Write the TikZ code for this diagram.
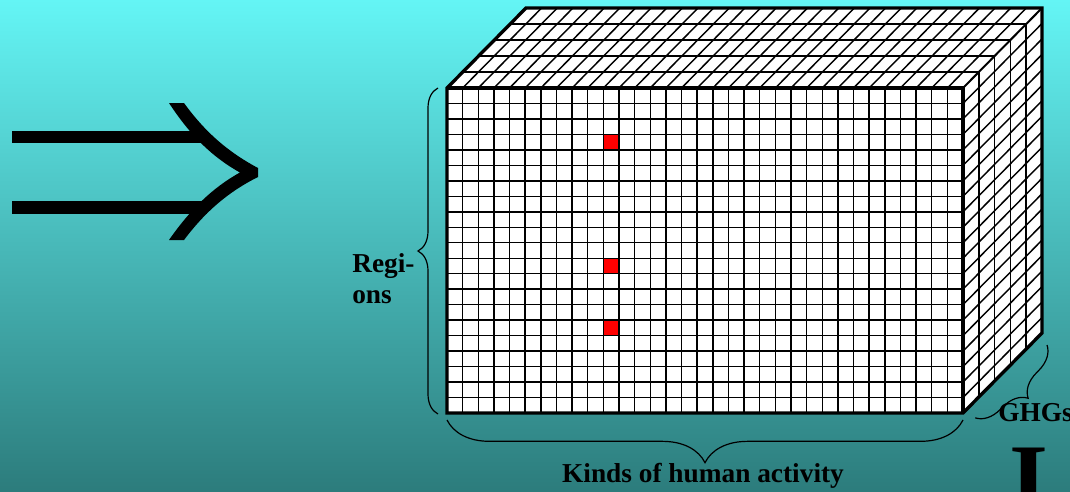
\documentclass[tikz,border=0pt]{standalone}
\usepackage{fontspec}
\setmainfont{Liberation Serif}
\usetikzlibrary{decorations.pathreplacing}
\definecolor{bgtop}{RGB}{100,245,245}
\definecolor{bgbot}{RGB}{44,124,124}
\definecolor{cellred}{RGB}{255,0,0}
\tikzset{
  every picture/.style={font=\bfseries\fontsize{20.5}{23.5}\selectfont},
  gridline/.style={line width=1.1pt},
  outline/.style={line width=2.5pt, line join=miter},
  brc/.style={decorate, decoration={brace, amplitude=#1}, line width=0.9pt},
  lbl/.style={inner sep=0pt, text=black},
}
\def\cw{15.636}
\def\ch{15.476}

\begin{document}
\begin{tikzpicture}[x=0.75pt, y=-0.75pt]
  \useasboundingbox (0pt,0pt) rectangle (802.5pt,-369pt);
  \shade[top color=bgtop, bottom color=bgbot] (0pt,0pt) rectangle (802.5pt,-369pt);
  \clip (0pt,0pt) rectangle (802.5pt,-369pt);
  % big double arrow
  \fill (12,131) rectangle (207,143);
  \fill (12,201) rectangle (207,214);
  \fill (169,103) -- (184,103) .. controls (205,132) and (228,152) .. (258,168) -- (258,177)
    .. controls (228,192) and (205,212) .. (184,240) -- (169,240)
    .. controls (190,210) and (212,188) .. (240,172.5) .. controls (212,157) and (190,135) .. (169,103) -- cycle;
  % cube corners
  \coordinate (fnw) at (447,88); \coordinate (fne) at (963,88);
  \coordinate (fse) at (963,413); \coordinate (fsw) at (447,413);
  \coordinate (bnw) at (526,8); \coordinate (bne) at (1042,8); \coordinate (bse) at (1042,333);
  \fill[white] (fnw) rectangle (fse);
  \fill[white] (fnw) -- (bnw) -- (bne) -- (fne) -- cycle;
  \fill[white] (fne) -- (bne) -- (bse) -- (fse) -- cycle;
  \foreach \r in {3,11,15} \fill[cellred] (447+10*\cw,88+\r*\ch) rectangle ++(\cw,\ch);
  % front face
  \foreach \i in {1,...,32} \draw[gridline] (447+\i*\cw,88) -- (447+\i*\cw,413);
  \foreach \j in {1,...,20} \draw[gridline] (447,88+\j*\ch) -- (963,88+\j*\ch);
  % top face
  \foreach \i in {1,...,32} \draw[gridline] (447+\i*\cw,88) -- ++(79,-80);
  \foreach \k in {1,...,4} \draw[gridline] (447+\k*15.8,88-\k*16) -- ++(516,0);
  % side face
  \foreach \j in {1,...,20} \draw[gridline] (963,88+\j*\ch) -- ++(79,-80);
  \foreach \k in {1,...,4} \draw[gridline] (963+\k*15.8,88-\k*16) -- ++(0,325);
  \draw[gridline, line width=1.5pt] (fne) -- (bne);
  \draw[outline] (fsw) -- (fnw) -- (bnw) -- (bne) -- (bse) -- (fse) -- cycle;
  \draw[outline] (fnw) -- (fne) -- (fse);
  % braces and labels
  \draw[brc=15] (438,414) -- (438,88);
  \draw[brc=32] (963,420) -- (447,420);
  \draw[brc=18] (1047,345) -- (975,418);
  \node[lbl, align=left, anchor=north west] (regions) at (352,253) {Regi-\\ons};
  \node[lbl, anchor=base] (kinds) at (703,482) {Kinds of human activity};
  \node[lbl, anchor=base west] (ghgs) at (998,421) {GHGs};
  \node[lbl, anchor=north, font=\bfseries\fontsize{75}{80}\selectfont] (bigI) at (1029,448) {I};
\end{tikzpicture}
\end{document}
